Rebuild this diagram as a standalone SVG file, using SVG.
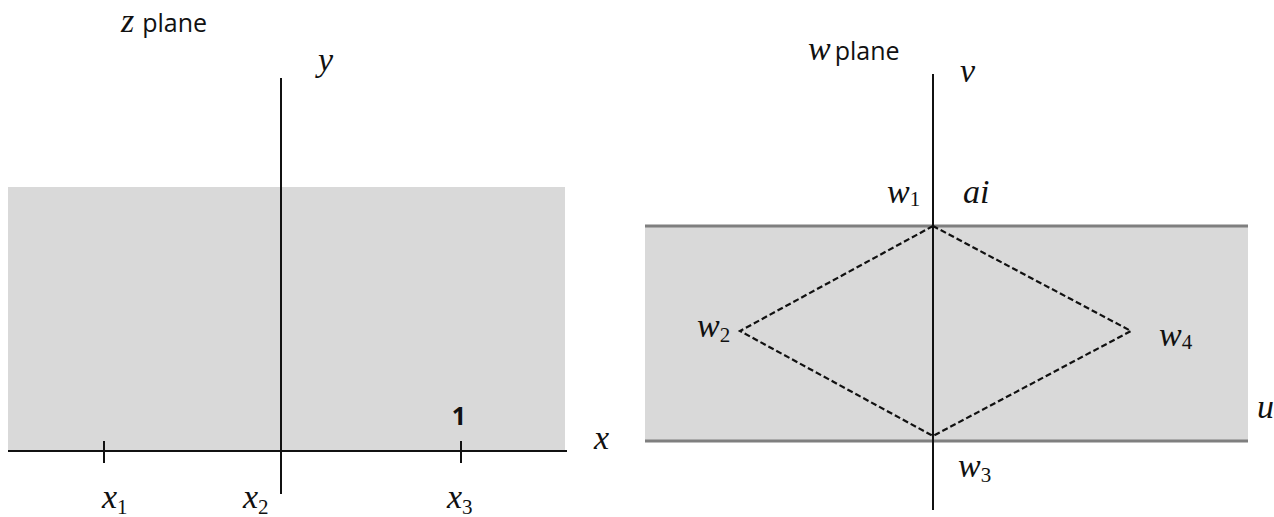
<svg xmlns="http://www.w3.org/2000/svg" width="1274" height="517" viewBox="0 0 1274 517">
<style>
.m{font-family:"Liberation Serif","DejaVu Serif",serif;font-style:italic;font-size:34px;fill:#111}
.s{font-family:"Open Sans","Liberation Sans",sans-serif;font-size:25px;fill:#111}
.sub{font-size:21px;font-style:normal}
.ax{stroke:#111;stroke-width:2;fill:none}
.bd{stroke:#7f7f7f;stroke-width:3;fill:none}
.ds{stroke:#111;stroke-width:2.2;stroke-dasharray:6 3;fill:none}
.reg{fill:#d9d9d9}
</style>
<g id="z-plane">
<rect class="reg" x="8" y="187" width="557" height="264"/>
</g>
<g id="w-plane">
<rect class="reg" x="645" y="226" width="603" height="215"/>
</g>
<g id="connectors">
<line class="ax" x1="8" y1="451" x2="567" y2="451"/>
<line class="ax" x1="281" y1="78" x2="281" y2="494"/>
<line class="ax" x1="104" y1="441" x2="104" y2="463"/>
<line class="ax" x1="461" y1="441" x2="461" y2="463"/>
<line class="bd" x1="645" y1="226" x2="1248" y2="226"/>
<line class="bd" x1="645" y1="441" x2="1248" y2="441"/>
<line class="ax" x1="933" y1="74" x2="933" y2="510"/>
<polygon class="ds" points="933,226 740,331 933,436 1131,331"/>
</g>
<g id="labels">
<text x="121" y="32"><tspan class="m" font-size="30">z</tspan><tspan class="s" dx="8">plane</tspan></text>
<text class="m" x="318" y="71">y</text>
<text class="m" x="594" y="449">x</text>
<text class="s" x="459" y="425" text-anchor="middle" font-weight="bold" font-size="22">1</text>
<text class="m" x="102" y="508">x<tspan class="sub" dy="6">1</tspan></text>
<text class="m" x="243" y="508">x<tspan class="sub" dy="6">2</tspan></text>
<text class="m" x="447" y="508">x<tspan class="sub" dy="6">3</tspan></text>
<text x="808" y="60"><tspan class="m" font-size="30">w</tspan><tspan class="s" dx="4">plane</tspan></text>
<text class="m" x="960" y="82">v</text>
<text class="m" x="887" y="203">w<tspan class="sub" dy="3">1</tspan></text>
<text class="m" x="963" y="203">ai</text>
<text class="m" x="697" y="337">w<tspan class="sub" dy="5">2</tspan></text>
<text class="m" x="1159" y="346">w<tspan class="sub" dy="3">4</tspan></text>
<text class="m" x="1257" y="418">u</text>
<text class="m" x="958" y="477">w<tspan class="sub" dy="5">3</tspan></text>
</g>
</svg>
